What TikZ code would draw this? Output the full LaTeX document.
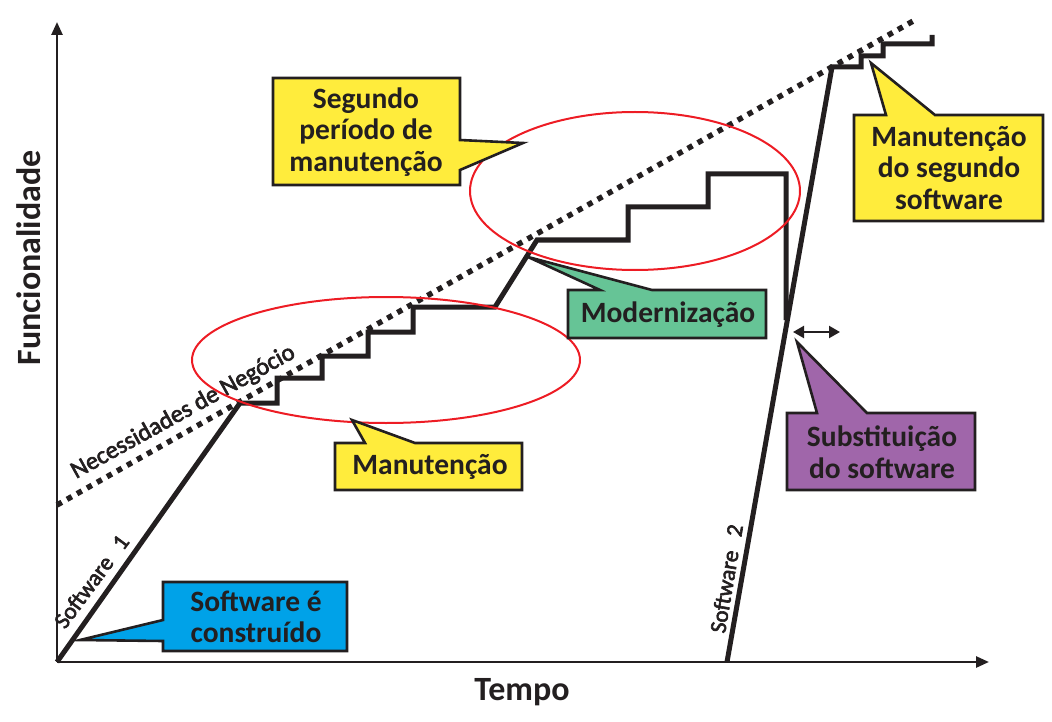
\documentclass[tikz,border=0pt]{standalone}
\usepackage{fontspec}
\setmainfont{Carlito}
\newfontfamily\labfont[FakeBold=2.6]{Carlito}
\usetikzlibrary{arrows.meta}
\definecolor{ink}{HTML}{231F20}
\definecolor{cyel}{RGB}{255,236,60}
\definecolor{cblue}{RGB}{0,162,232}
\definecolor{cgreen}{RGB}{102,196,150}
\definecolor{cpurple}{RGB}{160,102,170}
\definecolor{cred}{RGB}{237,28,36}
\tikzset{
  axis/.style={draw=ink, line width=2.6, -{Triangle[length=13,width=11]}},
  curve/.style={draw=ink, line width=5, line join=miter},
  need/.style={draw=ink, line width=5.5, dash pattern=on 5.5 off 6},
  oval/.style={draw=cred, line width=2},
  callout/.style={draw=ink, line width=2.6, line join=miter},
  ctext/.style={text=ink, font=\bfseries\fontsize{29.5}{31.5}\selectfont, align=center, inner sep=0},
  atext/.style={text=ink, font=\bfseries\fontsize{34}{40}\selectfont, inner sep=0},
  ltext/.style={text=ink, font=\labfont\fontsize{23}{26}\selectfont, inner sep=0, anchor=base west},
}
\begin{document}
\begin{tikzpicture}[x=1pt,y=-1pt]
\useasboundingbox (0,0) rectangle (1052,722);
% axes
\coordinate (O) at (57,662);
\coordinate (ytop) at (57,22);
\coordinate (xend) at (989,662);
\draw[axis] (O) -- (ytop);
\draw[axis] (O) -- (xend);
\node[atext, rotate=90] (ylab) at (29,258) {Funcionalidade};
\node[atext] (xlab) at (522,692) {Tempo};
% business needs
\coordinate (n1) at (57,505);
\coordinate (n2) at (915,20);
\draw[need] (n1) -- (n2);
\node[ltext, rotate=29, font=\labfont\fontsize{24.5}{26}\selectfont] (needlab) at (76,479) {Necessidades de Negócio};
% software 1
\coordinate (s1) at (240,403);
\draw[curve] (O) -- (s1) -- (277,403) -- (277,378) -- (322,378) -- (322,356) -- (368,356) -- (368,332) -- (413,332) -- (413,307) -- (495,307) -- (537,240) -- (628,240) -- (628,207) -- (708,207) -- (708,174) -- (786,174) -- (786,320);
\node[ltext, rotate=53.5] (sw1lab) at (65,630) {Software\hspace{0.4em} 1};
% software 2
\coordinate (t0) at (727,662);
\coordinate (t1) at (832,67);
\draw[curve] (t0) -- (t1) -- (861,67) -- (861,56) -- (883,56) -- (883,44) -- (932,44) -- (932,35);
\node[ltext, rotate=80.5] (sw2lab) at (725,634) {Software\hspace{0.4em} 2};
% ovals
\draw[oval] (386,360) ellipse [x radius=194, y radius=63];
\draw[oval] (635,191) ellipse [x radius=165, y radius=79];
% replacement arrow
\coordinate (ra) at (793,332);
\coordinate (rb) at (840,332);
\draw[draw=ink, line width=2.2, {Triangle[length=11,width=12]}-{Triangle[length=11,width=12]}] (ra) -- (rb);
% callouts
\draw[callout, fill=cblue] (163,582) -- (347,582) -- (347,651) -- (163,651) -- (163,641) -- (80,640) -- (163,620) -- cycle;
\node[ctext] (c1) at (256,617) {Software é\\construído};

\draw[callout, fill=cyel] (273,78) -- (460,78) -- (460,140) -- (523,143) -- (460,170) -- (460,185) -- (273,185) -- cycle;
\node[ctext] (c2) at (366,132) {Segundo\\período de\\manutenção};

\draw[callout, fill=cyel] (335,443) -- (365,443) -- (352,420) -- (415,443) -- (522,443) -- (522,490) -- (335,490) -- cycle;
\node[ctext] (c3) at (430,467) {Manutenção};

\draw[callout, fill=cgreen] (568,290) -- (600,290) -- (528,257) -- (652,290) -- (766,290) -- (766,338) -- (568,338) -- cycle;
\node[ctext] (c4) at (668,315) {Modernização};

\draw[callout, fill=cpurple] (787,413) -- (817,413) -- (797,342) -- (867,413) -- (975,413) -- (975,490) -- (787,490) -- cycle;
\node[ctext] (c5) at (882,452) {Substituição\\do software};

\draw[callout, fill=cyel] (854,115) -- (886,115) -- (871,63) -- (935,115) -- (1043,115) -- (1043,221) -- (854,221) -- cycle;
\node[ctext] (c6) at (949,168) {Manutenção\\do segundo\\software};
\end{tikzpicture}
\end{document}
